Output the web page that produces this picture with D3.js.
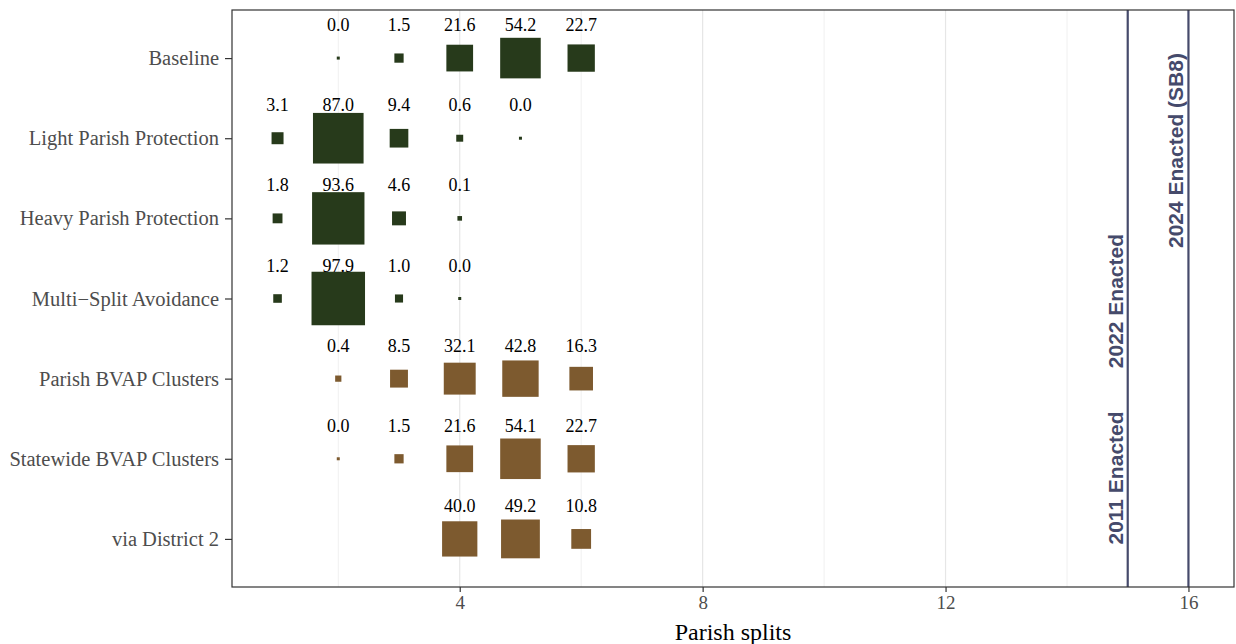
<!DOCTYPE html>
<html><head><meta charset="utf-8">
<script src="https://cdn.jsdelivr.net/npm/d3@7"></script>
<style>body{margin:0;background:#fff}svg{display:block}</style>
</head><body>
<svg id="chart" width="1236" height="644"></svg>
<script>
const categories = ["Baseline","Light Parish Protection","Heavy Parish Protection","Multi\u2212Split Avoidance","Parish BVAP Clusters","Statewide BVAP Clusters","via District 2"];
const groups = ["green","green","green","green","brown","brown","brown"];
const splits = [
  [2,3,4,5,6],
  [1,2,3,4,5],
  [1,2,3,4],
  [1,2,3,4],
  [2,3,4,5,6],
  [2,3,4,5,6],
  [4,5,6]
];
const percents = [
  [0.0,1.5,21.6,54.2,22.7],
  [3.1,87.0,9.4,0.6,0.0],
  [1.8,93.6,4.6,0.1],
  [1.2,97.9,1.0,0.0],
  [0.4,8.5,32.1,42.8,16.3],
  [0.0,1.5,21.6,54.1,22.7],
  [40.0,49.2,10.8]
];
const enactedLabels = ["2011 Enacted","2022 Enacted","2024 Enacted (SB8)"];
const enactedSplits = [15,15,16];
const enactedLabelStart = [7.07,4.87,3.37];
const xTicks = [4,8,12,16];
const xMinor = [2,6,10,14];

const colors = {green:"#273a1b", brown:"#7d5a2f"};
const lineColor = "#454a6b";

const svg = d3.select("#chart");
const m = {l:232, r:2, t:10, b:57};
const W = 1236, H = 644;
const x = d3.scaleLinear().domain([0.25,16.75]).range([m.l, W-m.r]);
const yIdx = d3.scaleLinear().domain([0.4,7.6]).range([m.t, H-m.b]);
const y = (c) => yIdx(categories.indexOf(c)+1);
const size = d3.scaleSqrt().domain([0,97.9]).range([3,53.5]);

// grid
svg.append("g").selectAll("line").data(xMinor).join("line")
  .attr("x1",d=>x(d)).attr("x2",d=>x(d)).attr("y1",m.t).attr("y2",H-m.b)
  .attr("stroke","#f0f0f0").attr("stroke-width",1);
svg.append("g").selectAll("line").data(xTicks).join("line")
  .attr("x1",d=>x(d)).attr("x2",d=>x(d)).attr("y1",m.t).attr("y2",H-m.b)
  .attr("stroke","#e6e6e6").attr("stroke-width",1.2);

// points
const pts = [];
categories.forEach((c,i)=>splits[i].forEach((s,j)=>pts.push({c, s, v:percents[i][j], g:groups[i]})));
svg.append("g").selectAll("rect").data(pts).join("rect")
  .attr("x",d=>x(d.s)-size(d.v)/2).attr("y",d=>y(d.c)-size(d.v)/2)
  .attr("width",d=>size(d.v)).attr("height",d=>size(d.v))
  .attr("fill",d=>colors[d.g]);
svg.append("g").selectAll("text").data(pts).join("text")
  .attr("x",d=>x(d.s)).attr("y",d=>y(d.c)-27)
  .attr("text-anchor","middle")
  .attr("font-family","Liberation Serif, Times New Roman, serif")
  .attr("font-size",18).attr("fill","#000")
  .text(d=>d.v.toFixed(1));

// enacted lines
const lines = Array.from(new Set(enactedSplits));
svg.append("g").selectAll("line").data(lines).join("line")
  .attr("x1",d=>x(d)).attr("x2",d=>x(d)).attr("y1",m.t).attr("y2",H-m.b)
  .attr("stroke",lineColor).attr("stroke-width",2.2);
svg.append("g").selectAll("text").data(enactedLabels).join("text")
  .attr("transform",(d,i)=>`translate(${x(enactedSplits[i])-5},${yIdx(enactedLabelStart[i])}) rotate(-90)`)
  .attr("text-anchor","start")
  .attr("font-family","Liberation Sans, Arial, sans-serif")
  .attr("font-weight","bold").attr("font-size",21).attr("fill",lineColor)
  .text(d=>d);

// axes
const xAxis = d3.axisBottom(x).tickValues(xTicks).tickSize(5).tickPadding(4).tickFormat(d3.format("d"));
const gx = svg.append("g").attr("transform",`translate(0,${H-m.b})`).call(xAxis);
gx.select(".domain").remove();
gx.selectAll(".tick line").attr("stroke","#333").attr("stroke-width",1.2);
gx.selectAll(".tick text").attr("font-family","Liberation Serif, Times New Roman, serif").attr("font-size",19).attr("fill","#4d4d4d");

const yAxis = d3.axisLeft(d3.scalePoint().domain(categories).range([yIdx(1),yIdx(7)])).tickSize(7).tickPadding(6);
const gy = svg.append("g").attr("transform",`translate(${m.l},0)`).call(yAxis);
gy.select(".domain").remove();
gy.selectAll(".tick line").attr("stroke","#333").attr("stroke-width",1.2);
gy.selectAll(".tick text").attr("font-family","Liberation Serif, Times New Roman, serif").attr("font-size",20.5).attr("fill","#4d4d4d");

// panel border
svg.append("rect").attr("x",m.l).attr("y",m.t).attr("width",W-m.r-m.l).attr("height",H-m.b-m.t)
  .attr("fill","none").attr("stroke","#333").attr("stroke-width",1.2);

svg.append("text").attr("x",(m.l+W-m.r)/2).attr("y",640)
  .attr("text-anchor","middle").attr("font-family","Liberation Serif, Times New Roman, serif")
  .attr("font-size",24).attr("fill","#000").text("Parish splits");
</script>
</body></html>
